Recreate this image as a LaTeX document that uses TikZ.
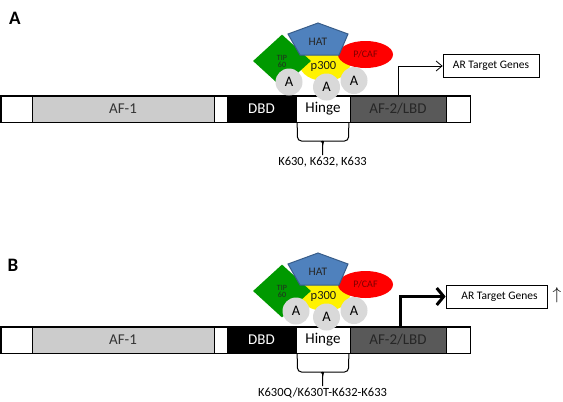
\documentclass[tikz,border=0pt]{standalone}
\usepackage{fontspec}
\setmainfont{Carlito}
\usetikzlibrary{shapes.geometric,arrows.meta}

\definecolor{afgray}{RGB}{204,204,204}
\definecolor{lbdgray}{RGB}{89,89,89}
\definecolor{tipgreen}{RGB}{0,153,0}
\definecolor{hatblue}{RGB}{79,129,189}
\definecolor{hatedge}{RGB}{56,93,138}
\definecolor{pcafred}{RGB}{255,0,0}
\definecolor{pcaftext}{RGB}{125,0,0}
\definecolor{acetgray}{RGB}{217,217,217}

\newcommand{\fs}[1]{\fontsize{#1}{#1}\selectfont}

\begin{document}
\begin{tikzpicture}[x=1pt,y=-1pt,
  seg/.style={draw=black, line width=0.7pt, minimum height=26pt, inner sep=0pt,
              anchor=center, font=\fs{15}},
  genebox/.style={draw=black, line width=0.7pt, inner sep=0pt, font=\fs{11.5}},
  acet/.style={circle, fill=acetgray, minimum size=27pt, inner sep=0pt, font=\fs{14.5}},
  brace/.style={line width=1pt, rounded corners=4pt},
  panellabel/.style={font=\fs{19}\bfseries},
  site/.style={font=\fs{12.5}, anchor=north, inner sep=2pt}]
\useasboundingbox (0,0) rectangle (563,402);

% panel letters
\node[panellabel] (labA) at (15,18) {A};
\node[panellabel] (labB) at (13,265) {B};

% the two receptor panels: bar, acetylation complex, hinge brace
\foreach \p/\dy/\dc/\cx/\cy in {a/0/0/289/82, b/231/230/296/81} {
  % domain bar
  \node[seg, fill=white,   minimum width=31pt] (\p-l)     at (16.5,109+\dy) {};
  \node[seg, fill=afgray,  minimum width=182pt, text=black!80] (\p-af1) at (123,109+\dy) {AF-1};
  \node[seg, fill=white,   minimum width=13pt] (\p-gap)   at (220.5,109+\dy) {};
  \node[seg, fill=black,   minimum width=69pt, text=white] (\p-dbd) at (261.5,109+\dy) {DBD};
  \node[seg, fill=white,   minimum width=54pt] (\p-hinge) at (323,109+\dy) {Hinge};
  \node[seg, fill=lbdgray, minimum width=96pt, text=black!85] (\p-af2) at (398,109+\dy) {AF-2/LBD};
  \node[seg, fill=white,   minimum width=24pt] (\p-r)     at (458,109+\dy) {};
  \draw[line width=1.6pt] (\p-l.north west) rectangle (\p-r.south east);

  % brace under the hinge
  \coordinate (\p-tip) at (322.5,155+\dy);
  \draw[brace] ([xshift=1.5pt]\p-hinge.south west) -- (297.5,141+\dy) -- (318,141+\dy)
     to[out=0,in=90] (322.5,145.5+\dy) -- (\p-tip);
  \draw[brace] ([xshift=-1.5pt]\p-hinge.south east) -- (348.5,141+\dy) -- (327,141+\dy)
     to[out=180,in=90] (322.5,145.5+\dy);

  % acetylation complex
  \node[ellipse, fill=yellow, minimum width=50pt, minimum height=32pt, inner sep=0pt]
    (\p-p300) at (325,65+\dc) {};
  \node[diamond, fill=tipgreen, minimum width=58pt, minimum height=53pt, inner sep=0pt,
        align=center, font=\fs{8}, text=black!85]
    (\p-tip60) at (282,61+\dc) {TIP\\[-1pt]60};
  \node[ellipse, fill=pcafred, minimum width=55pt, minimum height=27pt, inner sep=0pt,
        font=\fs{10}, text=pcaftext]
    (\p-pcaf) at (365.5,54.5+\dc) {P/CAF};
  \draw[fill=hatblue, draw=hatedge, line width=1pt]
    (318,23+\dc) -- (348,34+\dc) -- (339,55+\dc) -- (300,55+\dc) -- (288,34+\dc) -- cycle;
  \node[font=\fs{11.5}, text=black!85] (\p-hat) at (318,42+\dc) {HAT};
  \node[font=\fs{12.5}, text=black!90] (\p-p300txt) at (323.5,66+\dc) {p300};
  \node[acet] (\p-a1) at (\cx,\cy+\dc) {A};
  \node[acet] (\p-a2) at (326.5,87+\dc) {A};
  \node[acet] (\p-a3) at (354,80.5+\dc) {A};
}

% target genes, panel A
\node[genebox, minimum width=96pt, minimum height=23pt] (a-genes) at (491,66) {AR Target Genes};
\draw[line width=0.8pt, -{Straight Barb[length=6pt,width=10pt]}] (a-af2.north) |- (a-genes.west);
\node[site] (a-sites) at (a-tip) {K630, K632, K633};

% target genes, panel B
\node[genebox, minimum width=101pt, minimum height=23pt] (b-genes) at (496.5,296.5) {\hspace*{6pt}AR Target Genes};
\draw[line width=3pt, -{Straight Barb[length=7pt,width=17pt]}] ([xshift=2pt]b-af2.north) |- (b-genes.west);
\node[font=\fs{17}] (b-up) at (557,295) {$\uparrow$};
\node[site] (b-sites) at (b-tip) {K630Q/K630T-K632-K633};
\end{tikzpicture}
\end{document}
